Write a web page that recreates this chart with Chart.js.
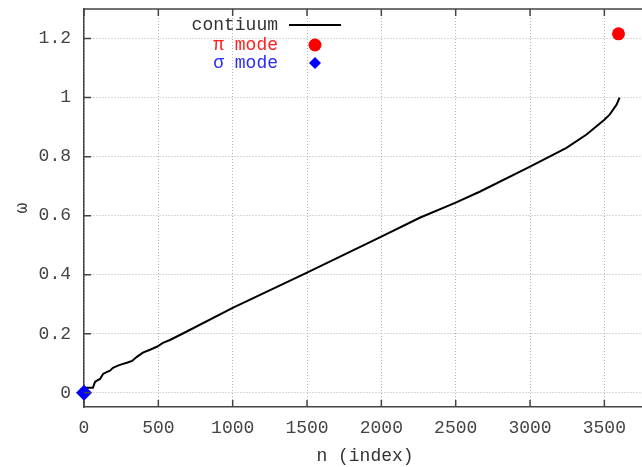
<!DOCTYPE html>
<html>
<head>
<meta charset="utf-8">
<script src="https://cdn.jsdelivr.net/npm/chart.js@4/dist/chart.umd.min.js"></script>
<style>
    html, body { margin: 0; padding: 0; background: #fff; overflow: hidden; }
    #grafico { display: block; }
</style>
</head>
<body>
<canvas id="grafico" width="660" height="467"></canvas>
<script>
// curva do continuo
const nContinuo = [0, 60, 74, 87, 108, 128, 155, 175, 195, 228, 262, 289, 323, 356, 396, 444, 490, 531, 578, 665,
    1000, 1500, 2000, 2258, 2500, 2661, 3000, 3245, 3380, 3500, 3535, 3582, 3602];
const omegaContinuo = [0.017, 0.017, 0.037, 0.041, 0.047, 0.064, 0.071, 0.075, 0.085, 0.092, 0.098, 0.102, 0.108, 0.122, 0.136, 0.146, 0.156, 0.169, 0.179, 0.201,
    0.288, 0.407, 0.529, 0.593, 0.644, 0.681, 0.766, 0.83, 0.875, 0.925, 0.942, 0.976, 1.0];

const nModoPi = [3595];
const omegaModoPi = [1.216];
const nModoSigma = [0];
const omegaModoSigma = [0];

const ticksX = [0, 500, 1000, 1500, 2000, 2500, 3000, 3500];
const ticksY = [0, 0.2, 0.4, 0.6, 0.8, 1, 1.2];

const legendas = ['contiuum', 'π mode', 'σ mode'];
const tituloX = 'n (index)';
const tituloY = 'ω';

const fonte = '"Liberation Mono", "Courier New", monospace';
Chart.defaults.font.family = fonte;
Chart.defaults.font.size = 18;
Chart.defaults.color = '#444';

const paraPontos = (xs, ys) => xs.map((x, i) => ({ x: x, y: ys[i] }));

// moldura de cima e tiques para dentro, estilo gnuplot
const molduraPlugin = {
    id: 'moldura',
    afterDraw(chart) {
        const { ctx, chartArea, scales } = chart;
        const tam = 7;
        ctx.save();
        ctx.strokeStyle = '#444';
        ctx.lineWidth = 1.5;
        ctx.beginPath();
        ctx.moveTo(chartArea.left, chartArea.top);
        ctx.lineTo(chartArea.right, chartArea.top);
        ticksX.forEach((v) => {
            const px = scales.x.getPixelForValue(v);
            ctx.moveTo(px, chartArea.bottom);
            ctx.lineTo(px, chartArea.bottom - tam);
            ctx.moveTo(px, chartArea.top);
            ctx.lineTo(px, chartArea.top + tam);
        });
        ticksY.forEach((v) => {
            const py = scales.y.getPixelForValue(v);
            ctx.moveTo(chartArea.left, py);
            ctx.lineTo(chartArea.left + tam, py);
        });
        ctx.stroke();
        ctx.restore();
    }
};

// legenda gnuplot: texto alinhado a direita, amostra a direita
const legendaPlugin = {
    id: 'legendaGnuplot',
    afterDraw(chart, args, opts) {
        const ctx = chart.ctx;
        ctx.save();
        ctx.font = '18px ' + fonte;
        ctx.textAlign = 'right';
        ctx.textBaseline = 'middle';
        chart.data.datasets.forEach((ds, i) => {
            const y = opts.linhas[i];
            ctx.fillStyle = opts.coresTexto[i];
            ctx.fillText(ds.label, opts.textoDireita, y);
            if (ds.showLine) {
                ctx.strokeStyle = ds.borderColor;
                ctx.lineWidth = 2;
                ctx.beginPath();
                ctx.moveTo(opts.amostraX - 26, y);
                ctx.lineTo(opts.amostraX + 26, y);
                ctx.stroke();
            } else {
                ctx.fillStyle = ds.backgroundColor;
                ctx.beginPath();
                if (ds.pointStyle === 'rectRot') {
                    const r = 6;
                    ctx.moveTo(opts.amostraX, y - r);
                    ctx.lineTo(opts.amostraX + r, y);
                    ctx.lineTo(opts.amostraX, y + r);
                    ctx.lineTo(opts.amostraX - r, y);
                    ctx.closePath();
                } else {
                    ctx.arc(opts.amostraX, y, ds.pointRadius, 0, Math.PI * 2);
                }
                ctx.fill();
            }
        });
        ctx.restore();
    }
};

new Chart(document.getElementById('grafico'), {
    type: 'scatter',
    data: {
        datasets: [
            {
                label: legendas[0],
                data: paraPontos(nContinuo, omegaContinuo),
                showLine: true,
                borderColor: '#000',
                borderWidth: 2,
                pointRadius: 0,
                tension: 0,
                order: 3
            },
            {
                label: legendas[1],
                data: paraPontos(nModoPi, omegaModoPi),
                pointStyle: 'circle',
                pointRadius: 6.5,
                backgroundColor: '#ff0000',
                borderWidth: 0,
                clip: false,
                order: 2
            },
            {
                label: legendas[2],
                data: paraPontos(nModoSigma, omegaModoSigma),
                pointStyle: 'rectRot',
                pointRadius: 8,
                backgroundColor: '#0000ff',
                borderWidth: 0,
                clip: false,
                order: 1
            }
        ]
    },
    options: {
        responsive: false,
        animation: false,
        devicePixelRatio: 1,
        events: [],
        layout: { padding: { left: 0, top: 9, right: 14, bottom: 0 } },
        plugins: {
            legend: { display: false },
            tooltip: { enabled: false },
            legendaGnuplot: {
                linhas: [25, 45, 63],
                textoDireita: 278,
                amostraX: 315,
                coresTexto: ['#333', '#ff2020', '#2a2aff']
            }
        },
        scales: {
            x: {
                type: 'linear',
                min: 0,
                max: 3780,
                afterBuildTicks: (s) => { s.ticks = ticksX.map((v) => ({ value: v })); },
                afterFit: (s) => { s.height = 60; s.paddingLeft = 0; s.paddingRight = 0; },
                grid: { color: '#b4b4b4', lineWidth: 1, drawTicks: false },
                border: { display: true, color: '#444', width: 1.5, dash: [1, 2] },
                ticks: { padding: 10, maxRotation: 0, autoSkip: false, callback: (v) => String(v) },
                title: { display: true, text: tituloX, color: '#333', padding: { top: 0, bottom: 0 } }
            },
            y: {
                type: 'linear',
                min: -0.048,
                max: 1.3,
                afterBuildTicks: (s) => { s.ticks = ticksY.map((v) => ({ value: v })); },
                afterFit: (s) => { s.width = 84; s.paddingTop = 0; s.paddingBottom = 0; },
                grid: { color: '#b4b4b4', lineWidth: 1, drawTicks: false },
                border: { display: true, color: '#444', width: 1.5, dash: [1, 2] },
                ticks: { padding: 13, autoSkip: false, callback: (v) => String(v) },
                title: { display: true, text: tituloY, color: '#333', padding: { top: 11, bottom: 0 } }
            }
        }
    },
    plugins: [molduraPlugin, legendaPlugin]
});
</script>
</body>
</html>
